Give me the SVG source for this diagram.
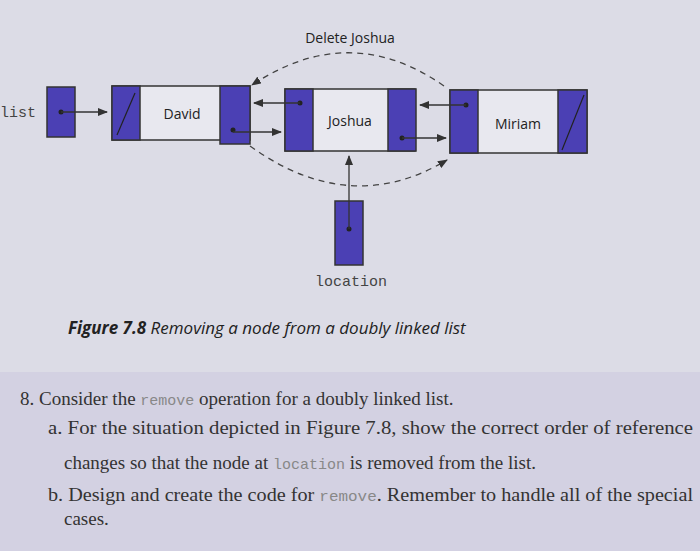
<svg xmlns="http://www.w3.org/2000/svg" width="700" height="551" viewBox="0 0 700 551">
<style>
.dk{fill:#4b40b4;stroke:#333;stroke-width:1.5}
.lt{fill:#e8e8ef;stroke:#333;stroke-width:1.5}
.sl{stroke:#222;stroke-width:1.2}
.ar{stroke:#333;stroke-width:1.3;fill:none;marker-end:url(#a)}
.da{stroke:#444;stroke-width:1.3;fill:none;stroke-dasharray:6,5;marker-end:url(#a)}
.lb{font-family:"Open Sans","Liberation Sans",sans-serif;font-size:14px;fill:#222}
.mo{font-family:"Liberation Mono",monospace;font-size:15px;fill:#444}
.bd{font-family:"Liberation Serif",serif;font-size:19px;fill:#333}
.bm{font-family:"Liberation Mono",monospace;font-size:15px;fill:#888}
.dot{fill:#222}
</style>
<defs><marker id="a" markerWidth="10" markerHeight="8" refX="9" refY="4" orient="auto" markerUnits="userSpaceOnUse"><path d="M0,0L10,4L0,8z" fill="#333"/></marker></defs>
<rect width="700" height="551" fill="#dcdce6"/>
<rect y="372" width="700" height="179" fill="#d3d1e2"/>
<g id="list"><rect class="dk" x="47" y="87" width="28" height="50"/><circle class="dot" cx="61" cy="112" r="2.5"/></g>
<text class="mo" x="0" y="117">list</text>
<g id="david"><rect class="lt" x="112" y="86" width="138" height="54"/><rect class="dk" x="112" y="86" width="28" height="54"/><rect class="dk" x="220" y="86" width="30" height="58"/><line class="sl" x1="117" y1="135" x2="135" y2="93"/><text class="lb" x="182" y="119" text-anchor="middle">David</text><circle class="dot" cx="233" cy="130" r="2.5"/></g>
<g id="joshua"><rect class="lt" x="285" y="89" width="130" height="62"/><rect class="dk" x="285" y="89" width="28" height="62"/><rect class="dk" x="388" y="89" width="28" height="62"/><text class="lb" x="350" y="126" text-anchor="middle">Joshua</text><circle class="dot" cx="300" cy="103" r="2.5"/><circle class="dot" cx="402" cy="138" r="2.5"/></g>
<g id="miriam"><rect class="lt" x="450" y="90" width="137" height="63"/><rect class="dk" x="450" y="90" width="28" height="63"/><rect class="dk" x="558" y="90" width="29" height="63"/><line class="sl" x1="562" y1="150" x2="584" y2="95"/><text class="lb" x="518" y="129" text-anchor="middle">Miriam</text><circle class="dot" cx="466" cy="105" r="2.5"/></g>
<g id="location"><rect class="dk" x="335" y="201" width="28" height="64"/><circle class="dot" cx="349" cy="229" r="2.5"/></g>
<g id="connectors">
<line class="ar" x1="61" y1="112" x2="107" y2="112"/>
<line class="ar" x1="300" y1="103" x2="254" y2="103"/>
<line class="ar" x1="233" y1="132" x2="281" y2="132"/>
<line class="ar" x1="466" y1="105" x2="420" y2="105"/>
<line class="ar" x1="402" y1="138" x2="446" y2="138"/>
<line class="ar" x1="349" y1="229" x2="349" y2="156"/>
<path class="da" d="M444,86 Q350,20 252,85"/>
<path class="da" d="M250,146 Q350,218 447,160"/>
</g>
<text class="lb" x="350" y="43" text-anchor="middle">Delete Joshua</text>
<text class="mo" x="351" y="286" text-anchor="middle">location</text>
<text x="68" y="334" style="font-family:'Open Sans','Liberation Sans',sans-serif;font-size:17px;fill:#222;font-style:italic"><tspan font-weight="bold">Figure 7.8</tspan> Removing a node from a doubly linked list</text>
<text class="bd" x="20" y="405">8. Consider the <tspan class="bm">remove</tspan> operation for a doubly linked list.</text>
<text class="bd" x="48" y="434" textLength="645" lengthAdjust="spacingAndGlyphs">a. For the situation depicted in Figure 7.8, show the correct order of reference</text>
<text class="bd" x="64" y="469">changes so that the node at <tspan class="bm">location</tspan> is removed from the list.</text>
<text class="bd" x="48" y="501" textLength="645" lengthAdjust="spacingAndGlyphs">b. Design and create the code for <tspan class="bm">remove</tspan>. Remember to handle all of the special</text>
<text class="bd" x="64" y="525">cases.</text>
</svg>
